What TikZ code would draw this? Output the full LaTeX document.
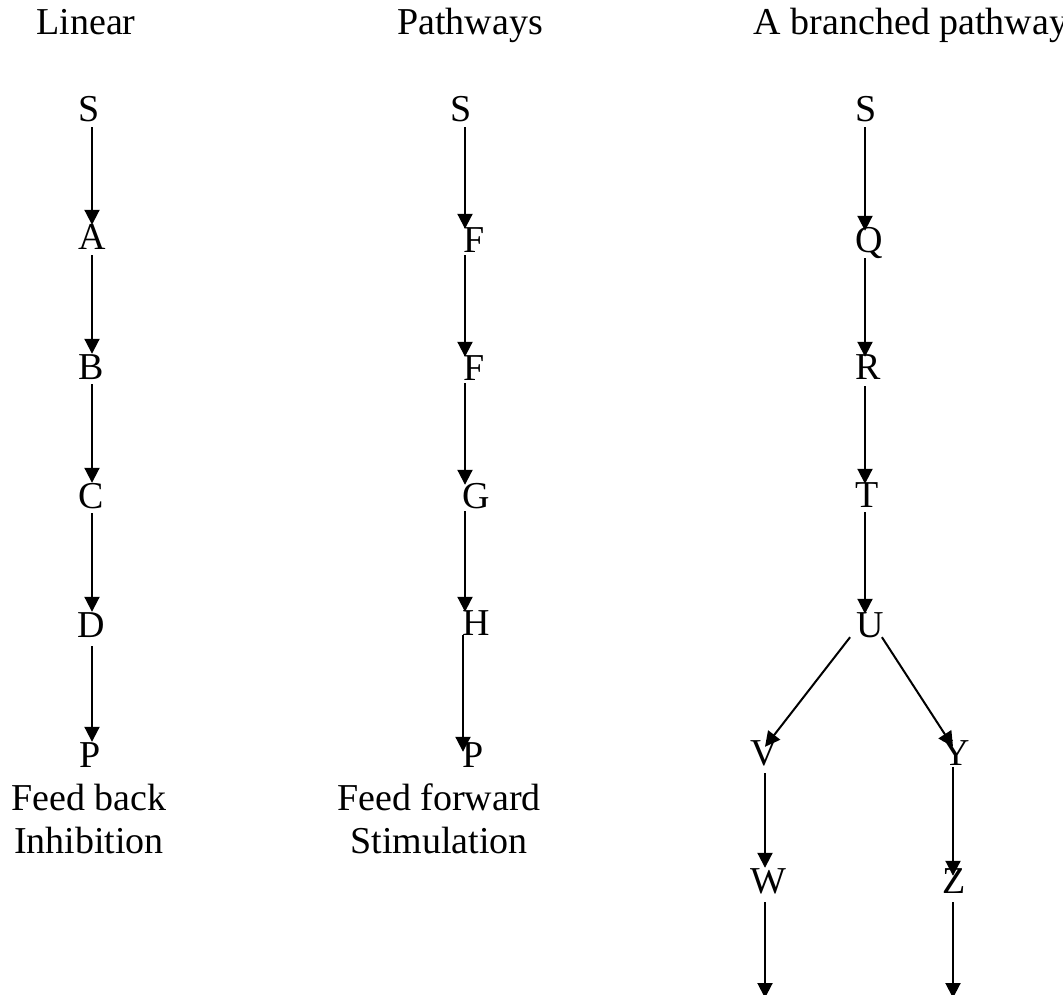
\documentclass[tikz,border=0pt]{standalone}
\usepackage{fontspec}
\setmainfont{Liberation Serif}
\usetikzlibrary{arrows.meta}
\begin{document}
\begin{tikzpicture}[x=1pt,y=-1pt,
  every node/.style={font=\fontsize{38}{43}\selectfont, inner sep=0pt},
  letter/.style={anchor=base, text height=25pt, text depth=0pt},
  head/.style={anchor=base},
  caption/.style={anchor=base, align=center},
  arr/.style={line width=2pt, -{Triangle[length=15pt,width=15pt]}}]
\useasboundingbox (0,0) rectangle (1063,995);
% headings
\node[head] (h1) at (86,35) {Linear};
\node[head] (h2) at (470,35) {Pathways};
\node[head] (h3) at (911,35) {A branched pathway};
% column coordinates
\coordinate (c1) at (92,0);
\coordinate (c2) at (465,0);
\coordinate (c2b) at (463,0);
\coordinate (c3) at (865,0);
\coordinate (cv) at (765,0);
\coordinate (cy) at (953,0);
% column 1
\node[letter] (S1) at (89,122) {S};
\node[letter] (A1) at (92,250) {A};
\node[letter] (B1) at (91,379) {B};
\node[letter] (C1) at (91,508) {C};
\node[letter] (D1) at (91,637) {D};
\node[letter] (P1) at (90,767) {P};
\node[caption] (cap1) at (89,853) {Feed back\\Inhibition};
% column 2
\node[letter] (S2) at (461,122) {S};
\node[letter] (F2a) at (474,252) {F};
\node[letter] (F2b) at (474,380) {F};
\node[letter] (G2) at (476,508) {G};
\node[letter] (H2) at (476,635) {H};
\node[letter] (P2) at (473,767) {P};
\node[caption] (cap2) at (439,853) {Feed forward\\Stimulation};
% column 3
\node[letter] (S3) at (866,122) {S};
\node[letter] (Q3) at (869,253) {Q};
\node[letter] (R3) at (868,379) {R};
\node[letter] (T3) at (867,507) {T};
\node[letter] (U3) at (870,637) {U};
\node[letter] (V3) at (764,765) {V};
\node[letter] (Y3) at (956,765) {Y};
\node[letter] (W3) at (768,893) {W};
\node[letter] (Z3) at (954,893) {Z};
\coordinate (endW) at (765,998);
\coordinate (endZ) at (953,998);
% arrows column 1
\draw[arr] ([yshift=-5pt]S1.south -| c1) -- (A1.north -| c1);
\draw[arr] ([yshift=-5pt]A1.south -| c1) -- (B1.north -| c1);
\draw[arr] ([yshift=-5pt]B1.south -| c1) -- (C1.north -| c1);
\draw[arr] ([yshift=-5pt]C1.south -| c1) -- (D1.north -| c1);
\draw[arr] ([yshift=-9pt]D1.south -| c1) -- (P1.north -| c1);
% arrows column 2
\draw[arr] ([yshift=-5pt]S2.south -| c2) -- ([yshift=-2pt]F2a.north -| c2);
\draw[arr] ([yshift=-3pt]F2a.south -| c2) -- ([yshift=-2pt]F2b.north -| c2);
\draw[arr] ([yshift=-3pt]F2b.south -| c2) -- ([yshift=-2pt]G2.north -| c2);
\draw[arr] ([yshift=-3pt]G2.south -| c2) -- ([yshift=-2pt]H2.north -| c2);
\draw[arr] (H2.south -| c2b) -- ([yshift=-10pt]P2.north -| c2b);
% arrows column 3
\draw[arr] ([yshift=-5pt]S3.south -| c3) -- ([yshift=-3pt]Q3.north -| c3);
\draw[arr] ([yshift=-5pt]Q3.south -| c3) -- ([yshift=-3pt]R3.north -| c3);
\draw[arr] ([yshift=-7pt]R3.south -| c3) -- ([yshift=-2pt]T3.north -| c3);
\draw[arr] ([yshift=-5pt]T3.south -| c3) -- ([yshift=-2pt]U3.north -| c3);
\draw[arr] ([xshift=-6pt]U3.south west) -- ([yshift=-7pt]V3.north -| cv);
\draw[arr] ([xshift=-2pt]U3.south east) -- ([yshift=-7pt]Y3.north -| cy);
\draw[arr] ([yshift=-8pt]V3.south -| cv) -- ([yshift=0pt]W3.north -| cv);
\draw[arr] ([yshift=-2pt]Y3.south -| cy) -- ([yshift=-8pt]Z3.north -| cy);
\draw[arr] ([yshift=-9pt]W3.south -| cv) -- (endW);
\draw[arr] ([yshift=-9pt]Z3.south -| cy) -- (endZ);
\end{tikzpicture}
\end{document}
